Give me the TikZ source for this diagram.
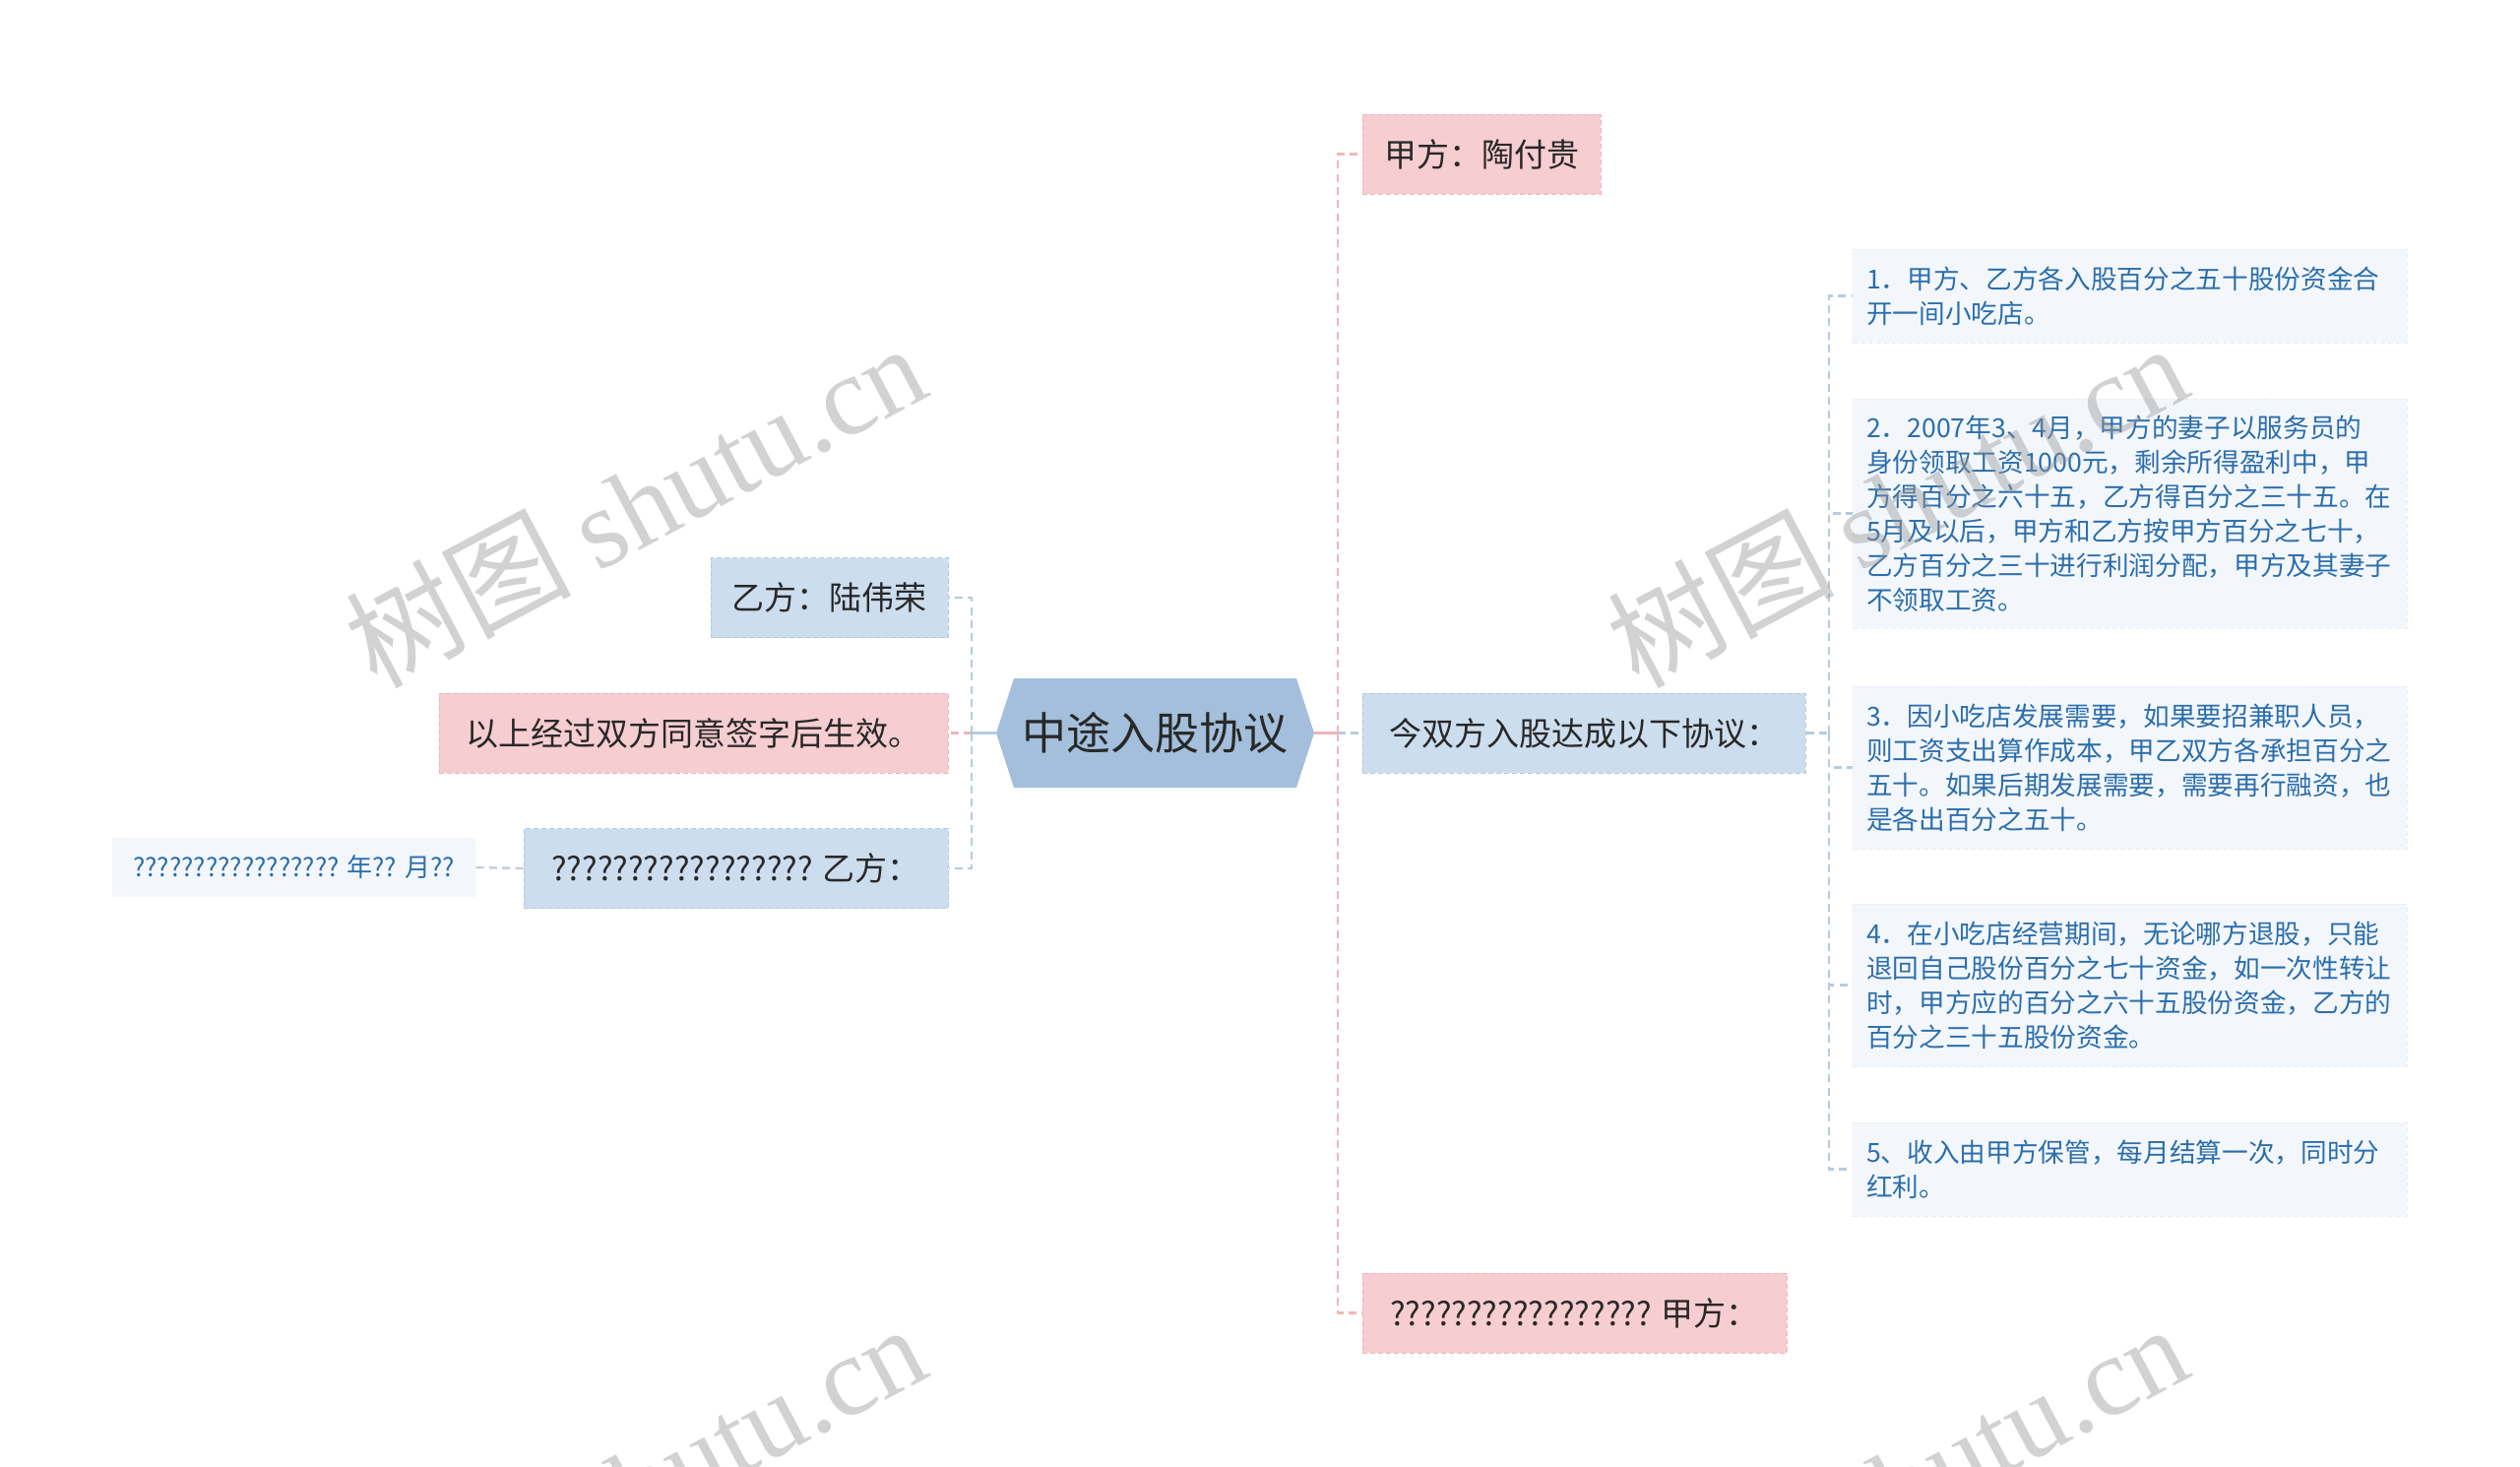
\documentclass[tikz,border=0pt]{standalone}
\usepackage{fontspec}
\setmainfont{Noto Sans CJK SC}
\newfontfamily\wmfont{Liberation Serif}
\usetikzlibrary{calc}

\definecolor{pinkfill}{RGB}{246,205,208}
\definecolor{pinkline}{RGB}{238,182,188}
\definecolor{bluefill}{RGB}{204,221,238}
\definecolor{blueline}{RGB}{182,203,224}
\definecolor{rootfill}{RGB}{163,191,219}
\definecolor{leaffill}{RGB}{243,247,252}
\definecolor{leafline}{RGB}{232,239,247}
\definecolor{leaftext}{RGB}{44,110,172}
\definecolor{darktext}{RGB}{40,40,40}
\definecolor{wmgray}{RGB}{150,150,150}
\definecolor{grayconn}{RGB}{195,208,222}

\begin{document}
\begin{tikzpicture}[x=0.75pt,y=-0.75pt,
  lvtwo/.style={line width=0.75pt, dash pattern=on 4pt off 2pt, minimum height=60.75pt, inner sep=0pt,
    font=\fontsize{24.75pt}{30pt}\selectfont, text=darktext},
  pinkbox/.style={lvtwo, fill=pinkfill, draw=pinkline},
  bluebox/.style={lvtwo, fill=bluefill, draw=blueline},
  leafbox/.style={fill=leaffill, draw=leafline, line width=0.75pt, dash pattern=on 4pt off 2pt,
    text=leaftext, align=left, text width=401.25pt, inner xsep=10.5pt, inner ysep=0pt,
    font=\fontsize{20pt}{26.25pt}\selectfont},
  pinkconn/.style={draw=pinkline, line width=1.8pt, dash pattern=on 6pt off 4pt},
  blueconn/.style={draw=blueline, line width=1.8pt, dash pattern=on 6pt off 4pt},
  rootnode/.style={minimum width=242.25pt, minimum height=83.25pt, inner sep=0pt,
    font=\fontsize{33.75pt}{40pt}\selectfont, text=darktext,
    path picture={\fill[rootfill] (path picture bounding box.west)
      -- ([xshift=13.5pt]path picture bounding box.north west)
      -- ([xshift=-13.5pt]path picture bounding box.north east)
      -- (path picture bounding box.east)
      -- ([xshift=-13.5pt]path picture bounding box.south east)
      -- ([xshift=13.5pt]path picture bounding box.south west) -- cycle;}},
  wmark/.style={rotate=28, text=wmgray, opacity=0.42, inner sep=0pt,
    font=\fontsize{86pt}{90pt}\selectfont}
]
\useasboundingbox (0,0) rectangle (2560,1489);
\fill[white] (0,0) rectangle (2560,1489);

% root
\node[rootnode] (root) at (1173.5,744.5) {中途入股协议};

% right second level
\node[pinkbox, minimum width=181.5pt] (jia) at (1505,156.5) {甲方：陶付贵};
\node[bluebox, minimum width=337.5pt] (jin) at (1609,744.5) {今双方入股达成以下协议：};
\node[pinkbox, minimum width=323.25pt] (jia2) at (1599.5,1333.5) {????????????????? 甲方：};

% left second level
\node[bluebox, minimum width=180.75pt] (yi) at (842.5,607) {乙方：陆伟荣};
\node[pinkbox, minimum width=387.75pt] (yishang) at (704.5,744.5) {以上经过双方同意签字后生效。};
\node[bluebox, minimum width=323.25pt] (yi2) at (747.5,882) {????????????????? 乙方：};

% left third level
\node[fill=leaffill, text=leaftext, minimum width=276.75pt, minimum height=45pt, inner sep=0pt,
  font=\fontsize{19.5pt}{24pt}\selectfont] (date) at (298.5,881) {????????????????? 年?? 月??};

% right third level
\node[leafbox, minimum height=71.25pt] (b1) at (2163.5,300.5)
  {1．甲方、乙方各入股百分之五十股份资金合\\开一间小吃店。};
\node[leafbox, minimum height=174.75pt] (b2) at (2163.5,521.5)
  {2．2007年3、4月，甲方的妻子以服务员的\\身份领取工资1000元，剩余所得盈利中，甲\\方得百分之六十五，乙方得百分之三十五。在\\5月及以后，甲方和乙方按甲方百分之七十，\\乙方百分之三十进行利润分配，甲方及其妻子\\不领取工资。};
\node[leafbox, minimum height=123.75pt] (b3) at (2163.5,779.5)
  {3．因小吃店发展需要，如果要招兼职人员，\\则工资支出算作成本，甲乙双方各承担百分之\\五十。如果后期发展需要，需要再行融资，也\\是各出百分之五十。};
\node[leafbox, minimum height=123.75pt] (b4) at (2163.5,1000.5)
  {4．在小吃店经营期间，无论哪方退股，只能\\退回自己股份百分之七十资金，如一次性转让\\时，甲方应的百分之六十五股份资金，乙方的\\百分之三十五股份资金。};
\node[leafbox, minimum height=71.25pt] (b5) at (2163.5,1187.5)
  {5、收入由甲方保管，每月结算一次，同时分\\红利。};

% junction coordinates
\coordinate (rt) at (1359,744.5);
\coordinate (lt) at (987,744.5);
\coordinate (t3) at (1858,744.5);

% right connectors
\draw[blueconn] (rt) -- (jin.west);
\draw[pinkconn] (rt) |- (jia.west);
\draw[pinkconn] (rt) |- (jia2.west);
\draw[draw=pinkline, line width=1.8pt] (root.east) -- (rt);

% left connectors
\draw[pinkconn] (lt) -- (yishang.east);
\draw[blueconn] (lt) |- (yi.east);
\draw[blueconn] (lt) |- (yi2.east);
\draw[draw=blueline, line width=1.8pt] (root.west) -- (lt);

\draw[draw=grayconn, line width=1.8pt, dash pattern=on 6pt off 4pt] (yi2.west) -- (date.east);

% third level connectors
\draw[blueconn] (jin.east) -- (t3);
\draw[blueconn] (t3) |- (b1.west);
\draw[blueconn] (t3) |- (b2.west);
\draw[blueconn] (t3) |- (b3.west);
\draw[blueconn] (t3) |- (b4.west);
\draw[blueconn] (t3) |- (b5.west);

% watermarks
\node[wmark] (wm1) at (645,512) {树图 {\wmfont shutu.cn}};
\node[wmark] (wm2) at (1927,512) {树图 {\wmfont shutu.cn}};
\node[wmark] (wm3) at (645,1508) {树图 {\wmfont shutu.cn}};
\node[wmark] (wm4) at (1927,1508) {树图 {\wmfont shutu.cn}};
\end{tikzpicture}
\end{document}
